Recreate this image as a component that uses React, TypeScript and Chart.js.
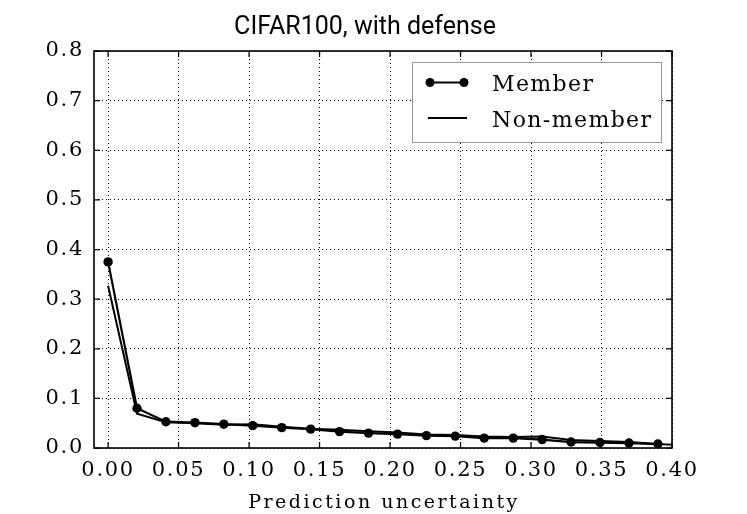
import { Chart, registerables, Plugin } from 'chart.js';
import React, { useEffect, useRef } from 'react';

Chart.register(...registerables);

// prediction-uncertainty bins (x) and rates (y)
const uncertaintyBins = [
  0, 0.0205, 0.041, 0.0616, 0.0821, 0.1026, 0.1232, 0.1437, 0.1642, 0.1847,
  0.2053, 0.2258, 0.2463, 0.2668, 0.2874, 0.3079, 0.3284, 0.3489, 0.3695, 0.39,
];
const memberRates = [
  0.375, 0.08, 0.053, 0.051, 0.048, 0.045, 0.041, 0.038, 0.033, 0.03,
  0.028, 0.025, 0.024, 0.02, 0.02, 0.017, 0.012, 0.011, 0.01, 0.008,
];
const nonMemberBins = [...uncertaintyBins, 0.4105];
const nonMemberRates = [
  0.327, 0.069, 0.052, 0.05, 0.047, 0.048, 0.043, 0.039, 0.037, 0.034,
  0.031, 0.027, 0.026, 0.023, 0.022, 0.023, 0.016, 0.014, 0.012, 0.008, 0.005,
];
const xTickValues = [0, 0.05, 0.1, 0.15, 0.2, 0.25, 0.3, 0.35, 0.4];
const yTickValues = [0, 0.1, 0.2, 0.3, 0.4, 0.5, 0.6, 0.7, 0.8];

const chartTitle = 'CIFAR100, with defense';
const xAxisTitle = 'Prediction uncertainty';
const legendLabels = ['Member', 'Non-member'];

const SERIF = '"DejaVu Serif", "Liberation Serif", serif';

const framePlugin: Plugin = {
  id: 'frame',
  beforeDraw(chart) {
    // spaced-out tick labels like the original
    (chart.ctx as any).letterSpacing = '1.7px';
  },
  afterDraw(chart) {
    const { ctx, chartArea } = chart;
    const { left, right, top, bottom } = chartArea;
    const xs = chart.scales.x;
    const ys = chart.scales.y;
    ctx.save();
    ctx.strokeStyle = '#000';

    // inward ticks on all four sides
    ctx.lineWidth = 1.25;
    ctx.beginPath();
    xTickValues.forEach((v) => {
      const px = xs.getPixelForValue(v);
      ctx.moveTo(px, bottom);
      ctx.lineTo(px, bottom - 6);
      ctx.moveTo(px, top);
      ctx.lineTo(px, top + 6);
    });
    yTickValues.forEach((v) => {
      const py = ys.getPixelForValue(v);
      ctx.moveTo(left, py);
      ctx.lineTo(left + 6, py);
      ctx.moveTo(right, py);
      ctx.lineTo(right - 6, py);
    });
    ctx.stroke();

    ctx.lineWidth = 1.6;
    ctx.strokeRect(left, top, right - left, bottom - top);

    ctx.fillStyle = '#000';

    // x axis title
    (ctx as any).letterSpacing = '2.5px';
    ctx.font = `19px ${SERIF}`;
    ctx.textAlign = 'center';
    ctx.textBaseline = 'alphabetic';
    ctx.fillText(xAxisTitle, (left + right) / 2 + 1, 508);

    // title
    (ctx as any).letterSpacing = '0px';
    ctx.font = '25px Roboto, "Noto Sans", sans-serif';
    ctx.textBaseline = 'middle';
    ctx.fillText(chartTitle, 365, 28);

    // legend box
    const bx = 412.5;
    const by = 62.5;
    ctx.fillStyle = '#fff';
    ctx.fillRect(bx, by, 249, 80);
    ctx.strokeStyle = '#999';
    ctx.lineWidth = 1;
    ctx.strokeRect(bx, by, 249, 80);

    ctx.strokeStyle = '#000';
    ctx.fillStyle = '#000';
    ctx.lineWidth = 2;
    ctx.beginPath();
    ctx.moveTo(430, 82.5);
    ctx.lineTo(464, 82.5);
    ctx.stroke();
    [430, 464].forEach((cx) => {
      ctx.beginPath();
      ctx.arc(cx, 82.5, 4.5, 0, Math.PI * 2);
      ctx.fill();
    });
    ctx.lineWidth = 1.8;
    ctx.beginPath();
    ctx.moveTo(428, 118);
    ctx.lineTo(467, 118);
    ctx.stroke();

    (ctx as any).letterSpacing = '1.4px';
    ctx.font = `22px ${SERIF}`;
    ctx.textAlign = 'left';
    ctx.textBaseline = 'alphabetic';
    ctx.fillText(legendLabels[0], 492, 91);
    ctx.fillText(legendLabels[1], 492, 127);
    ctx.restore();
  },
};

const UncertaintyChart: React.FC = () => {
  const canvasRef = useRef<HTMLCanvasElement | null>(null);

  useEffect(() => {
    const canvas = canvasRef.current;
    if (!canvas) return;

    const chart = new Chart(canvas, {
      type: 'line',
      data: {
        datasets: [
          {
            label: legendLabels[0],
            data: uncertaintyBins.map((x, i) => ({ x, y: memberRates[i] })),
            borderColor: '#000',
            backgroundColor: '#000',
            borderWidth: 2.2,
            pointRadius: 4.7,
            pointHoverRadius: 4.7,
            pointBorderWidth: 0,
            tension: 0,
          },
          {
            label: legendLabels[1],
            data: nonMemberBins.map((x, i) => ({ x, y: nonMemberRates[i] })),
            borderColor: '#000',
            backgroundColor: '#000',
            borderWidth: 2,
            pointRadius: 0,
            tension: 0,
            clip: 0,
          },
        ],
      },
      options: {
        animation: false,
        responsive: true,
        maintainAspectRatio: false,
        layout: { padding: { top: 51, right: 75, left: 0, bottom: 0 } },
        plugins: {
          legend: { display: false },
          title: { display: false },
          tooltip: { enabled: false },
        },
        scales: {
          x: {
            type: 'linear',
            min: -0.01,
            max: 0.4,
            afterBuildTicks: (scale) => {
              scale.ticks = xTickValues.map((value) => ({ value }));
            },
            afterFit: (scale) => {
              scale.height = 66;
            },
            grid: { color: '#000', lineWidth: 1, drawTicks: false },
            border: { display: false, dash: [1, 3] },
            ticks: {
              color: '#000',
              padding: 10,
              maxRotation: 0,
              font: { family: SERIF, size: 21 },
              callback: (v) => Number(v).toFixed(2),
            },
          },
          y: {
            min: 0,
            max: 0.8,
            afterBuildTicks: (scale) => {
              scale.ticks = yTickValues.map((value) => ({ value }));
            },
            afterFit: (scale) => {
              scale.width = 94;
            },
            grid: { color: '#000', lineWidth: 1, drawTicks: false },
            border: { display: false, dash: [1, 3] },
            ticks: {
              color: '#000',
              padding: 10,
              font: { family: SERIF, size: 21 },
              callback: (v) => Number(v).toFixed(1),
            },
          },
        },
      },
      plugins: [framePlugin],
    });

    return () => {
      chart.destroy();
    };
  }, []);

  return <canvas ref={canvasRef} />;
};

export default function App() {
  return (
    <div
      style={{
        position: 'fixed',
        left: 0,
        top: 0,
        width: 747,
        height: 514,
        background: '#fff',
      }}
    >
      <UncertaintyChart />
    </div>
  );
}
